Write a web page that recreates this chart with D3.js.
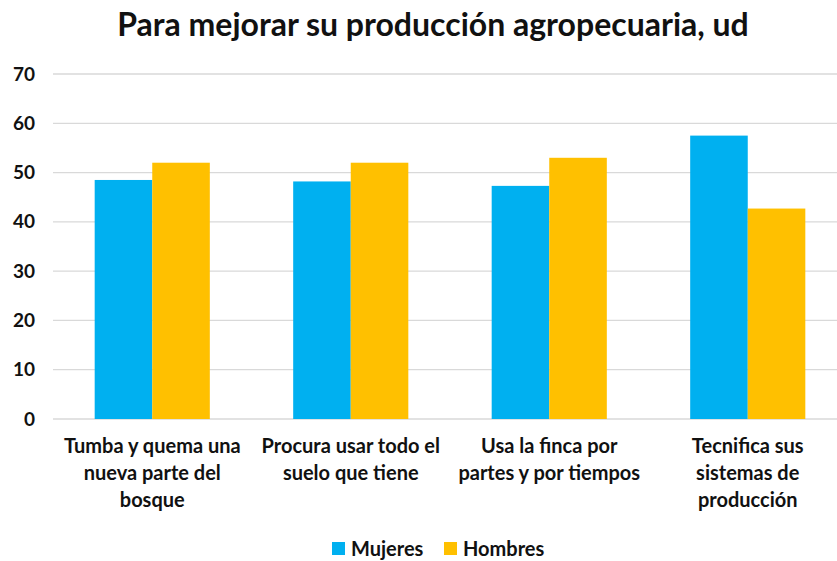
<!DOCTYPE html>
<html>
<meta charset="utf-8">
<style>
  body { margin: 0; background: #fff; }
  svg { display: block; }
  text { font-family: Lato, 'Open Sans', sans-serif; font-weight: bold; fill: #111; }
</style>
<body>
<svg width="837" height="561"></svg>
<script src="https://d3js.org/d3.v7.min.js"></script>
<script>
  // chart data
  let categories = [
    ["Tumba y quema una", "nueva parte del", "bosque"],
    ["Procura usar todo el", "suelo que tiene"],
    ["Usa la finca por", "partes y por tiempos"],
    ["Tecnifica sus", "sistemas de", "producción"]
  ];
  let seriesNames = ["Mujeres", "Hombres"];
  let mujeres = [48.5, 48.2, 47.3, 57.5];
  let hombres = [52.0, 52.0, 53.0, 42.7];
  let yTicks = [0, 10, 20, 30, 40, 50, 60, 70];

  let colors = { "Mujeres": "#00b0f0", "Hombres": "#ffc000" };

  let margin = {top: 74, left: 53, bottom: 142},
      width = 794,
      height = 561 - margin.top - margin.bottom;

  let svg = d3.select("svg");

  svg.append("text")
     .attr("x", 433).attr("y", 36)
     .attr("text-anchor", "middle")
     .style("font-size", "32px")
     .text("Para mejorar su producción agropecuaria, ud");

  let g = svg.append("g").attr("transform", "translate(" + margin.left + "," + margin.top + ")");

  let idx = d3.range(categories.length);
  let xScale = d3.scaleBand().domain(idx).range([0, width]).paddingInner(0.42).paddingOuter(0.21);
  let xInner = d3.scaleBand().domain(seriesNames).range([0, xScale.bandwidth()]);
  let yScale = d3.scaleLinear().domain([0, 70]).range([height, 0]);

  // gridlines
  g.selectAll(".grid")
   .data(yTicks)
   .join("line")
   .attr("x1", 0).attr("x2", 837 - margin.left)
   .attr("y1", d => yScale(d)).attr("y2", d => yScale(d))
   .attr("stroke", "#d9d9d9").attr("stroke-width", 1.3);

  // y labels
  let yAxis = g.append("g").call(d3.axisLeft(yScale).tickValues(yTicks).tickSize(0).tickPadding(18));
  yAxis.select(".domain").remove();
  yAxis.selectAll("text").style("font-size", "19px").style("font-family", "Lato, sans-serif").style("font-weight", "bold").attr("fill", "#111");

  let table = idx.map(i => ({ i: i, values: [
    { name: "Mujeres", v: mujeres[i] },
    { name: "Hombres", v: hombres[i] }
  ]}));

  let groups = g.selectAll(".cat")
    .data(table)
    .join("g")
    .attr("transform", d => "translate(" + xScale(d.i) + ",0)");

  groups.selectAll("rect")
    .data(d => d.values)
    .join("rect")
    .attr("x", d => xInner(d.name))
    .attr("width", xInner.bandwidth())
    .attr("y", d => yScale(d.v))
    .attr("height", d => height - yScale(d.v))
    .attr("fill", d => colors[d.name]);

  // category labels
  let labels = g.selectAll(".lab")
    .data(idx)
    .join("text")
    .attr("text-anchor", "middle")
    .style("font-size", "20px")
    .attr("transform", d => "translate(" + (xScale(d) + xScale.bandwidth() / 2) + "," + (height + 34) + ")");

  labels.selectAll("tspan")
    .data(d => categories[d])
    .join("tspan")
    .attr("x", 0)
    .attr("y", (d, i) => i * 27)
    .text(d => d);

  // legend
  let legend = svg.append("g").attr("transform", "translate(0,549)");
  let legX = [332, 444];
  seriesNames.forEach(function (s, i) {
    legend.append("rect").attr("x", legX[i]).attr("y", -7).attr("width", 13).attr("height", 13).attr("fill", colors[s]);
    legend.append("text").attr("x", legX[i] + 19).attr("y", 7).style("font-size", "20px").text(s);
  });
</script>
</body>
</html>
